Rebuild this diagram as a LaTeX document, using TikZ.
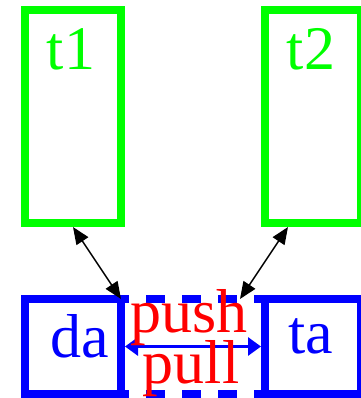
\documentclass[tikz,border=0pt]{standalone}
\usepackage{fontspec}
\setmainfont{Liberation Serif}
\usetikzlibrary{arrows.meta,calc}
\definecolor{tgreen}{RGB}{0,255,0}
\definecolor{ablue}{RGB}{0,0,255}
\definecolor{lred}{RGB}{255,0,0}
\begin{document}
\begin{tikzpicture}[x=1pt,y=-1pt,
  box/.style={rectangle, draw, line width=8pt, inner sep=0pt, minimum width=96pt},
  tbox/.style={box, draw=tgreen, minimum height=213pt},
  abox/.style={box, draw=ablue, minimum height=95pt},
  lbl/.style={font=\fontsize{62}{62}\selectfont, inner sep=0pt, anchor=base},
  link/.style={black, line width=1.5pt, {Triangle[length=17pt,width=14pt]}-{Triangle[length=17pt,width=14pt]}},
  flow/.style={ablue, line width=3pt, {Triangle[length=13pt,width=18pt]}-{Triangle[length=13pt,width=18pt]}},
  dashedge/.style={ablue, line width=8pt, dash pattern=on 19pt off 17pt, dash phase=11pt}]
\useasboundingbox (0,0) rectangle (360,398);

% thread boxes
\node[tbox] (t1) at (73,116.5) {};
\node[tbox] (t2) at (313,116.5) {};
\node[lbl, text=tgreen] (t1text) at (71,70) {t1};
\node[lbl, text=tgreen] (t2text) at (311,70) {t2};

% dashed channel between the two queues
\node[rectangle, inner sep=0pt, outer sep=0pt, minimum width=144pt, minimum height=95pt] (mid) at (193,346.5) {};
\draw[dashedge] (mid.north west) -- (mid.north east);
\draw[dashedge] (mid.south west) -- (mid.south east);

% queue boxes
\node[abox] (da) at (73,346.5) {};
\node[abox] (ta) at (313,346.5) {};
\node[lbl, text=ablue] (datext) at (80,357) {da};
\node[lbl, text=ablue] (tatext) at (311,353) {ta};

% links from threads to the queues
\coordinate (e1) at (121,299);
\coordinate (s2) at (288,227);
\coordinate (e2) at (240,299);
\draw[link] (t1.south) -- (e1);
\draw[link] (s2) -- (e2);

% push / pull transfer
\draw[flow] (da.east) -- (ta.west);
\node[lbl, text=lred] (push) at (189,332) {push};
\node[lbl, text=lred] (pull) at (191,383) {pull};
\end{tikzpicture}
\end{document}
